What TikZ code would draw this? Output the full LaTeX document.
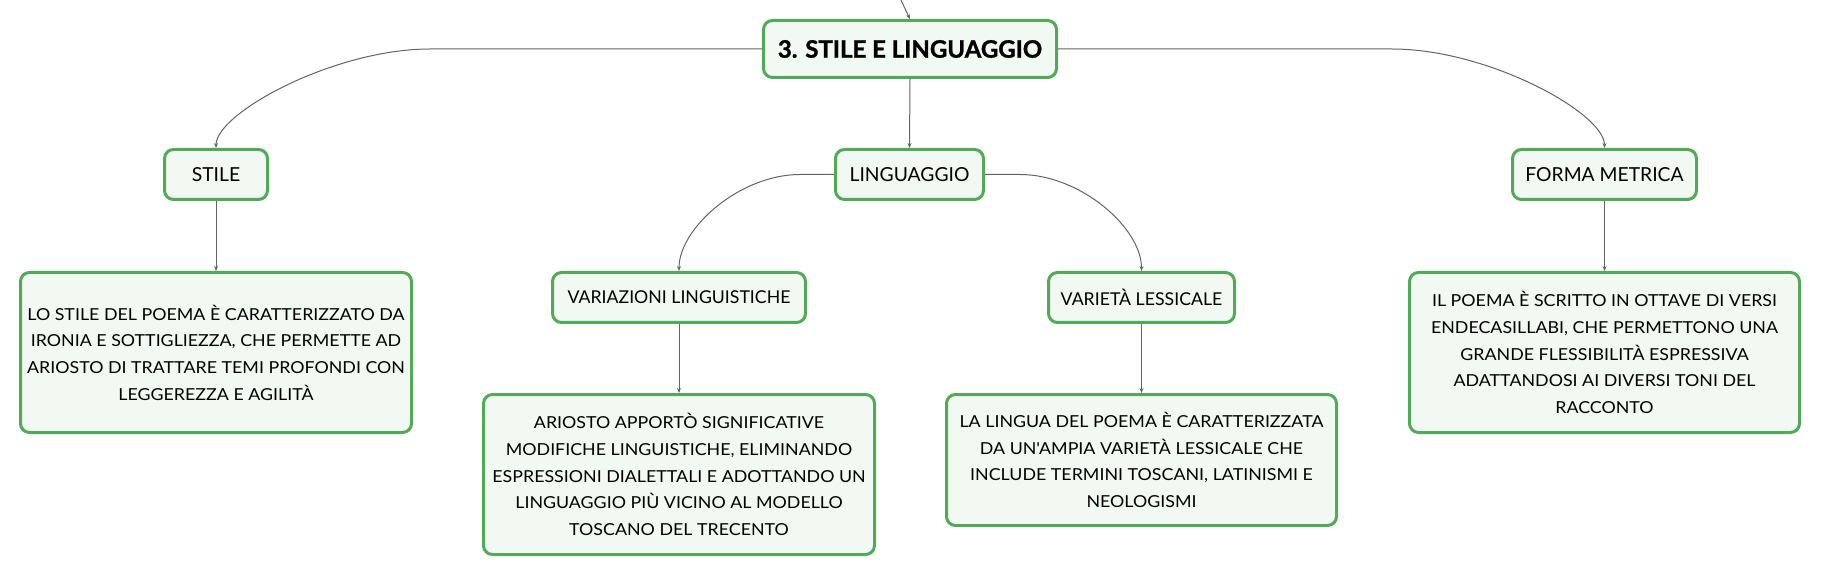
\documentclass[tikz,border=0pt]{standalone}
\usepackage{fontspec}
\setmainfont{Lato}
\newfontfamily\descfont{Lato}[FakeStretch=1.08]
\newfontfamily\heavyfont{Lato}[BoldFeatures={FakeBold=1.2}]
\usetikzlibrary{arrows.meta}
\definecolor{bord}{RGB}{82,170,88}
\definecolor{fillc}{RGB}{241,249,242}
\definecolor{conn}{RGB}{100,100,100}
\begin{document}
\begin{tikzpicture}[x=1pt,y=-1pt,
  box/.style={draw=bord, fill=fillc, line width=3pt, rounded corners=9pt, inner sep=0pt, align=center, text=black},
  rootbox/.style={box, font=\heavyfont\fontsize{24}{28}\bfseries\selectfont},
  lab/.style={box, font=\fontsize{19.3}{23}\selectfont},
  sublab/.style={box, font=\fontsize{17.7}{21}\selectfont},
  desc/.style={box, font=\descfont\fontsize{16.5}{26.7}\selectfont},
  link/.style={draw=conn, line width=1pt, -{Stealth[length=5pt,width=4pt]}}]
\useasboundingbox (0,0) rectangle (1821,577);
\fill[white] (0,0) rectangle (1821,577);

\node[rootbox, minimum width=293pt, minimum height=57pt] (root) at (910,49) {3. STILE E LINGUAGGIO};

\node[lab, minimum width=103pt, minimum height=50pt] (stile) at (216,174.5) {STILE};
\node[lab, minimum width=148pt, minimum height=50pt] (ling) at (909.5,174.5) {LINGUAGGIO};
\node[lab, minimum width=184pt, minimum height=50pt] (forma) at (1604.5,174.5) {FORMA METRICA};

\node[sublab, minimum width=253pt, minimum height=50pt] (varz) at (679,297.5) {VARIAZIONI LINGUISTICHE};
\node[sublab, minimum width=186pt, minimum height=50pt] (vart) at (1141.5,297.5) {VARIETÀ LESSICALE};

\node[desc, minimum width=391pt, minimum height=160pt] (stiled) at (216,352.5) {LO STILE DEL POEMA È CARATTERIZZATO DA\\ IRONIA E SOTTIGLIEZZA, CHE PERMETTE AD\\ ARIOSTO DI TRATTARE TEMI PROFONDI CON\\ LEGGEREZZA E AGILITÀ};
\node[desc, minimum width=391pt, minimum height=160pt] (varzd) at (679,474.5) {ARIOSTO APPORTÒ SIGNIFICATIVE\\ MODIFICHE LINGUISTICHE, ELIMINANDO\\ ESPRESSIONI DIALETTALI E ADOTTANDO UN\\ LINGUAGGIO PIÙ VICINO AL MODELLO\\ TOSCANO DEL TRECENTO};
\node[desc, minimum width=390pt, minimum height=131pt] (vartd) at (1141.5,460) {LA LINGUA DEL POEMA È CARATTERIZZATA\\ DA UN'AMPIA VARIETÀ LESSICALE CHE\\ INCLUDE TERMINI TOSCANI, LATINISMI E\\ NEOLOGISMI};
\node[desc, minimum width=390pt, minimum height=160pt] (formad) at (1604.5,352.5) {IL POEMA È SCRITTO IN OTTAVE DI VERSI\\ ENDECASILLABI, CHE PERMETTONO UNA\\ GRANDE FLESSIBILITÀ ESPRESSIVA\\ ADATTANDOSI AI DIVERSI TONI DEL\\ RACCONTO};

% named coordinates for connector bends
\coordinate (topc) at (900,-2);
\coordinate (rL) at (430,49);
\coordinate (rR) at (1392,49);
\coordinate (lL) at (800,174.5);
\coordinate (lR) at (1020,174.5);

\draw[link] (topc) .. controls (904,7) .. (root.north);
\draw[link] (root.west) -- (rL) .. controls (334,49) and (216,113) .. (stile.north);
\draw[link] (root.east) -- (rR) .. controls (1488,49) and (1604.5,113) .. (forma.north);
\draw[link] (root.south) -- (ling.north);
\draw[link] (ling.west) -- (lL) .. controls (740,174.5) and (679,228) .. (varz.north);
\draw[link] (ling.east) -- (lR) .. controls (1080.5,174.5) and (1141.5,228) .. (vart.north);
\draw[link] (stile.south) -- (stiled.north);
\draw[link] (forma.south) -- (formad.north);
\draw[link] (varz.south) -- (varzd.north);
\draw[link] (vart.south) -- (vartd.north);
\end{tikzpicture}
\end{document}
